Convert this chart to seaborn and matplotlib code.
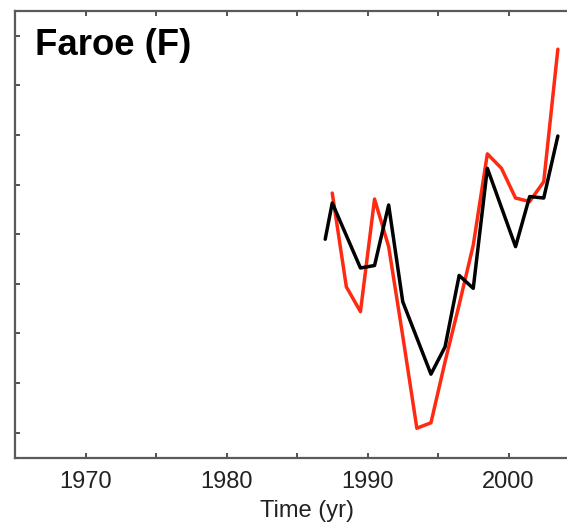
import pandas as pd
import seaborn as sns
import matplotlib.pyplot as plt

# black series (observed)
black_years = [1987.0, 1987.5, 1989.5, 1990.5, 1991.5, 1992.5, 1994.5, 1995.5,
               1996.5, 1997.5, 1998.5, 2000.5, 2001.5, 2002.5, 2003.5]
black_vals = [3.90, 4.63, 3.32, 3.37, 4.59, 2.64, 1.18, 1.73,
              3.17, 2.91, 5.33, 3.75, 4.76, 4.73, 5.98]

# red series (model)
red_years = [1987.5, 1988.5, 1989.5, 1990.5, 1991.5, 1992.5, 1993.5, 1994.5, 1995.5,
             1996.5, 1997.5, 1998.5, 1999.5, 2000.5, 2001.5, 2002.5, 2003.5]
red_vals = [4.83, 2.94, 2.44, 4.71, 3.75, 1.95, 0.09, 0.20, 1.43,
            2.58, 3.78, 5.62, 5.33, 4.73, 4.66, 5.06, 7.73]

x_ticks = [1970, 1980, 1990, 2000]

sns.set_style("ticks")
plt.rcParams["font.family"] = ["Liberation Sans", "DejaVu Sans"]

fig = plt.figure(figsize=(5.67, 5.24), dpi=100)
ax = fig.add_axes([15 / 567, 66.5 / 524, 564 / 567, 446.5 / 524])

red_df = pd.DataFrame({"year": red_years, "value": red_vals})
black_df = pd.DataFrame({"year": black_years, "value": black_vals})
sns.lineplot(data=red_df, x="year", y="value", color="#ff2a12", lw=2.5, ax=ax)
sns.lineplot(data=black_df, x="year", y="value", color="black", lw=2.5, ax=ax)

ax.set_xlim(1965, 2005)
ax.set_ylim(-0.5, 8.5)
ax.set_xticks(x_ticks)
ax.set_xticks([1975, 1985, 1995], minor=True)
ax.set_yticks(range(9))
ax.set_yticklabels([])

for side in ["left", "bottom", "top"]:
    ax.spines[side].set_color("#5a5a5a")
    ax.spines[side].set_linewidth(1.6)
ax.spines["right"].set_visible(False)

ax.tick_params(which="both", direction="in", length=3.5, width=1.3, color="#444444",
               top=True, right=False)
ax.tick_params(axis="x", labelsize=17, labelcolor="#222222", pad=10)

ax.set_xlabel("Time (yr)", fontsize=17, color="#222222")
ax.set_ylabel("")
ax.xaxis.set_label_coords(0.517, -0.095)

ax.text(20 / 564, 1 - 44 / 446.5, "Faroe (F)", transform=ax.transAxes,
        fontsize=26.3, fontweight="bold", color="black", ha="left", va="baseline")

fig.savefig("out.png", dpi=100)
